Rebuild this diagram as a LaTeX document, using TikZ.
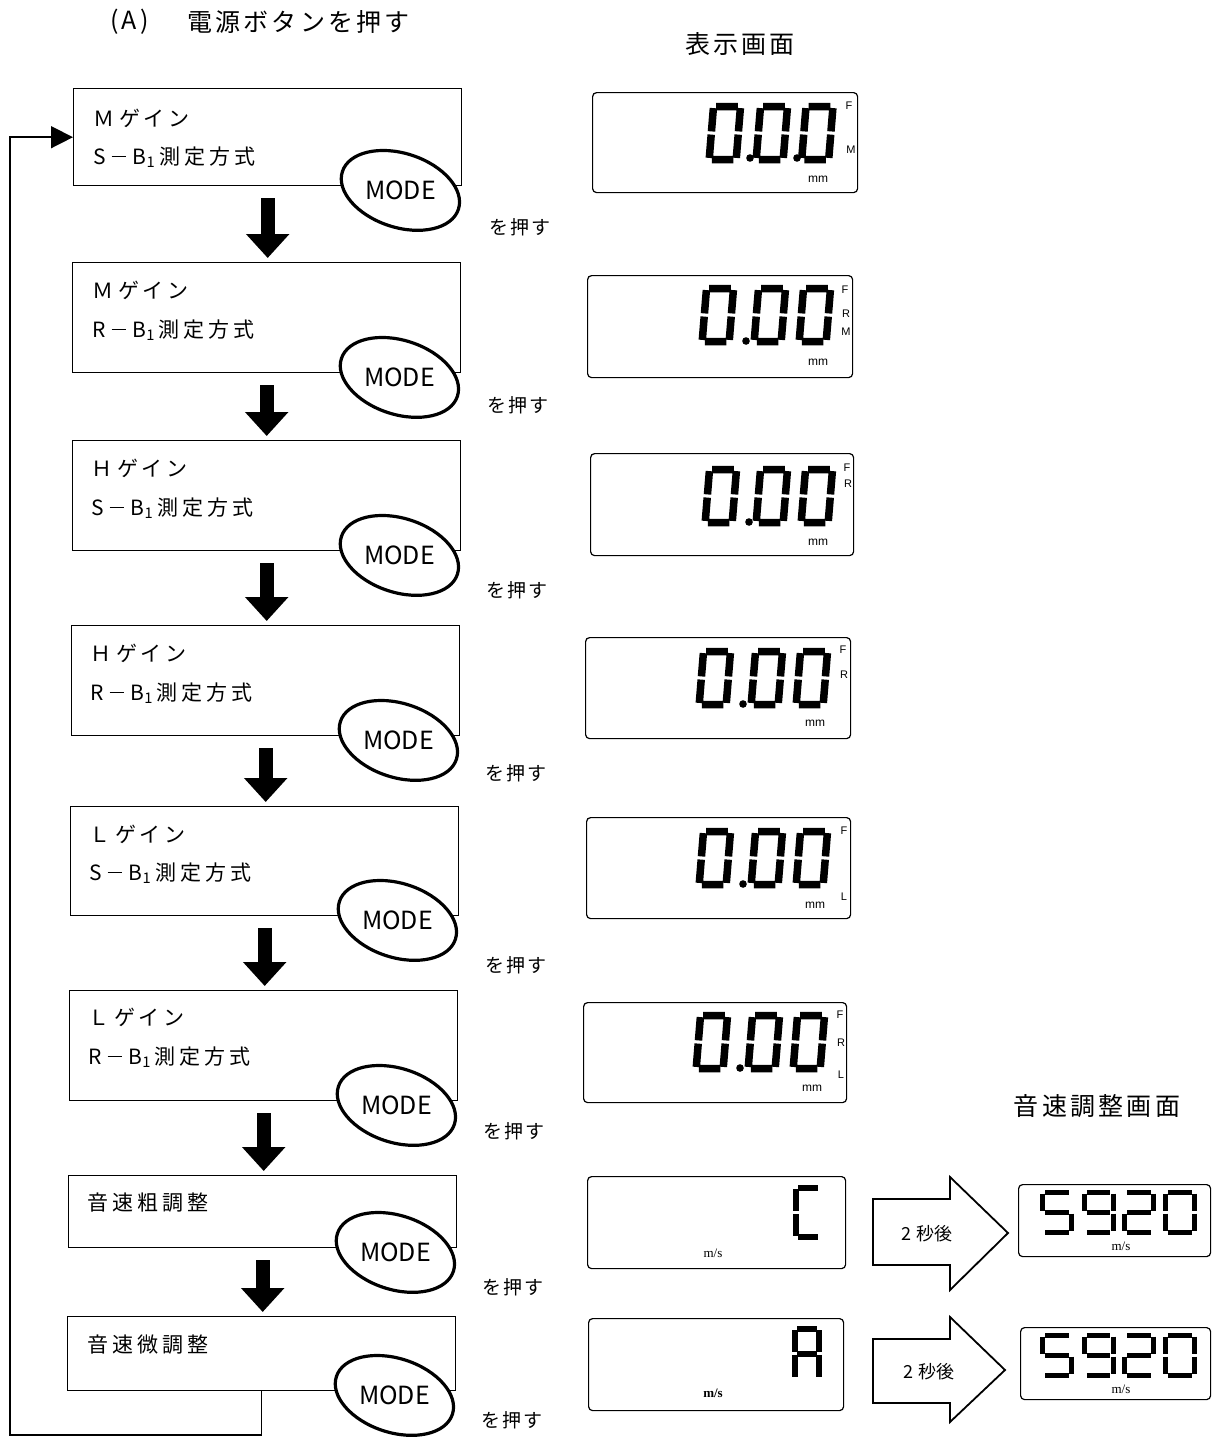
\documentclass[tikz,border=0pt]{standalone}
\usepackage{fontspec}
\setmainfont{Noto Sans CJK JP}
\newfontfamily\lcdfont{Liberation Sans}
\newfontfamily\msfont{Liberation Serif}
\usetikzlibrary{arrows.meta,shapes.geometric}
\def\segA{(0.1,0)--(0.9,0)}
\def\segB{(1,0.06)--(1,0.94)}
\def\segC{(1,1.06)--(1,1.94)}
\def\segD{(0.1,2)--(0.9,2)}
\def\segE{(0,1.06)--(0,1.94)}
\def\segF{(0,0.06)--(0,0.94)}
\def\segG{(0.1,1)--(0.9,1)}
\newcommand\sbdash{\hspace{6pt}\rule[0.33em]{14pt}{1.4pt}\hspace{7pt}}
\newcommand\bsub{B\textsubscript{1}\hspace{4pt}}
\tikzset{
  box/.style={draw, line width=1.4pt, minimum width=388pt, anchor=north west, inner sep=0pt},
  modeell/.style={draw, ellipse, fill=white, line width=3.2pt, minimum width=122pt, minimum height=74pt, inner sep=0pt, rotate=-18},
  modetxt/.style={font=\fontsize{25}{25}\selectfont, inner sep=0pt},
  btxt/.style={anchor=west, inner sep=0pt, font=\fontsize{21}{21}\selectfont\addfontfeature{LetterSpace=19}},
  push/.style={inner sep=0pt, font=\fontsize{19}{19}\selectfont\addfontfeature{LetterSpace=10}},
  ttl/.style={inner sep=0pt, font=\fontsize{25}{25}\selectfont\addfontfeature{LetterSpace=13}},
  bigarrow/.style={line width=14pt, -{Triangle[width=42pt,length=24pt]}, shorten <=12pt, shorten >=4pt},
  ret/.style={line width=1.5pt, -{Triangle[width=22pt,length=22pt]}},
  disp/.style={draw, line width=1.2pt, rounded corners=4pt, anchor=north west, inner sep=0pt},
  hollow/.style={draw, line width=1.8pt, fill=white, line join=miter},
  ind/.style={font=\lcdfont\fontsize{11}{11}\selectfont, inner sep=0pt},
  mmtxt/.style={font=\lcdfont\fontsize{12}{12}\selectfont, inner sep=0pt},
  mstxt/.style={font=\msfont\fontsize{13}{13}\selectfont, inner sep=0pt},
  sectxt/.style={font=\fontsize{18}{18}\selectfont, inner sep=0pt},
  big/.style={xscale=27, yscale=26.5, xslant=0.08, line width=7.5pt, line cap=butt},
  mid/.style={xscale=24, yscale=24.5, line width=6pt, line cap=butt},
  small/.style={xscale=29, yscale=20, line width=5pt, line cap=butt},
  pics/d0/.style={code={\draw \segA \segB \segC \segD \segE \segF;}},
  pics/d2/.style={code={\draw \segA \segB \segG \segE \segD;}},
  pics/d5/.style={code={\draw \segA \segF \segG \segC \segD;}},
  pics/d9/.style={code={\draw \segA \segB \segC \segD \segF \segG;}},
  pics/dC/.style={code={\draw \segA \segF \segE \segD;}},
  pics/dA/.style={code={\draw \segA \segB \segC \segE \segF \segG;}},
}
\begin{document}
\begin{tikzpicture}[x=1pt, y=-1pt]
\useasboundingbox[fill=white] (0,0) rectangle (1219,1441);

% titles
\node[ttl, anchor=west] (ta) at (110,22) {(A)};
\node[ttl, anchor=west] (tb) at (187,22) {電源ボタンを押す};
\node[ttl] (tc) at (740,44) {表示画面};
\node[ttl] (td) at (1097,1106) {音速調整画面};

% boxes
\node[box, minimum height=97pt] (b1) at (73,88) {};
\node[box, minimum height=110pt] (b2) at (72,262) {};
\node[box, minimum height=110pt] (b3) at (72,440) {};
\node[box, minimum height=110pt] (b4) at (71,625) {};
\node[box, minimum height=109pt] (b5) at (70,806) {};
\node[box, minimum height=110pt] (b6) at (69,990) {};
\node[box, minimum height=72pt] (b7) at (68,1175) {};
\node[box, minimum height=74pt] (b8) at (67,1316) {};

\node[btxt] (l1a) at (93,118) {Ｍ\hspace{5pt}ゲイン};
\node[btxt] (l1b) at (93,157) {S\sbdash\bsub 測定方式};
\node[btxt] (l2a) at (92,290) {Ｍ\hspace{5pt}ゲイン};
\node[btxt] (l2b) at (92,330) {R\sbdash\bsub 測定方式};
\node[btxt] (l3a) at (91,468) {Ｈ\hspace{5pt}ゲイン};
\node[btxt] (l3b) at (91,508) {S\sbdash\bsub 測定方式};
\node[btxt] (l4a) at (90,653) {Ｈ\hspace{5pt}ゲイン};
\node[btxt] (l4b) at (90,693) {R\sbdash\bsub 測定方式};
\node[btxt] (l5a) at (89,834) {Ｌ\hspace{5pt}ゲイン};
\node[btxt] (l5b) at (89,873) {S\sbdash\bsub 測定方式};
\node[btxt] (l6a) at (88,1017) {Ｌ\hspace{5pt}ゲイン};
\node[btxt] (l6b) at (88,1057) {R\sbdash\bsub 測定方式};
\node[btxt] (l7) at (87,1203) {音速粗調整};
\node[btxt] (l8) at (87,1345) {音速微調整};

% MODE ellipses
\foreach \i in {1,...,8}{
  \node[modeell] (e\i) at ([shift={(-62,4)}]b\i.south east) {};
  \node[modetxt] (m\i) at (e\i) {MODE};
}

% push labels
\node[push] (p1) at (520,227) {を押す};
\node[push] (p2) at (518,405) {を押す};
\node[push] (p3) at (517,590) {を押す};
\node[push] (p4) at (516,773) {を押す};
\node[push] (p5) at (516,965) {を押す};
\node[push] (p6) at (514,1131) {を押す};
\node[push] (p7) at (513,1287) {を押す};
\node[push] (p8) at (512,1420) {を押す};

% flow arrows
\foreach \i/\j in {1/2,2/3,3/4,4/5,5/6,6/7,7/8}{
  \draw[bigarrow] (b\i.south) -- (b\i.south |- b\j.north);
}
\coordinate (rl) at (10,1435);
\draw[ret] (b8.south) |- (rl) |- (b1.west);

% displays
\node[disp, minimum width=265pt, minimum height=100pt] (d1) at (592,92) {};
\node[disp, minimum width=265pt, minimum height=102pt] (d2) at (587,275) {};
\node[disp, minimum width=263pt, minimum height=102pt] (d3) at (590,453) {};
\node[disp, minimum width=265pt, minimum height=101pt] (d4) at (585,637) {};
\node[disp, minimum width=264pt, minimum height=101pt] (d5) at (586,817) {};
\node[disp, minimum width=263pt, minimum height=100pt] (d6) at (583,1002) {};
\node[disp, minimum width=258pt, minimum height=92pt] (d7) at (587,1176) {};
\node[disp, minimum width=255pt, minimum height=92pt] (d8) at (588,1318) {};
\node[disp, minimum width=192pt, minimum height=72pt] (s1) at (1018,1184) {};
\node[disp, minimum width=190pt, minimum height=72pt] (s2) at (1020,1327) {};

% D1: 0.0.0
\pic[big] at (713.5,106.5) {d0};
\pic[big] at (760.5,106.5) {d0};
\pic[big] at (806,106.5) {d0};
\fill (750,158) circle (3.8pt);
\fill (797,158) circle (3.8pt);
\node[ind] (f1) at (849,106) {F};
\node[ind] (f1m) at (851,150) {M};
\node[mmtxt] (mm1) at (818,179) {mm};

% D2
\pic[big] at (706.5,288.5) {d0};
\pic[big] at (758.5,288.5) {d0};
\pic[big] at (803.5,288.5) {d0};
\fill (746,341) circle (3.8pt);
\node[ind] (f2) at (845,290) {F};
\node[ind] (f2r) at (846,314) {R};
\node[ind] (f2m) at (846,332) {M};
\node[mmtxt] (mm2) at (818,362) {mm};

% D3
\pic[big] at (709.5,469.5) {d0};
\pic[big] at (760.5,469.5) {d0};
\pic[big] at (805.5,469.5) {d0};
\fill (749,522) circle (3.8pt);
\node[ind] (f3) at (847,468) {F};
\node[ind] (f3r) at (848,484) {R};
\node[mmtxt] (mm3) at (818,542) {mm};

% D4
\pic[big] at (703.5,651.5) {d0};
\pic[big] at (755.5,651.5) {d0};
\pic[big] at (800.5,651.5) {d0};
\fill (743,704) circle (3.8pt);
\node[ind] (f4) at (843,650) {F};
\node[ind] (f4r) at (844,675) {R};
\node[mmtxt] (mm4) at (815,723) {mm};

% D5
\pic[big] at (703.5,831.5) {d0};
\pic[big] at (755.5,831.5) {d0};
\pic[big] at (800.5,831.5) {d0};
\fill (743,884) circle (3.8pt);
\node[ind] (f5) at (844,831) {F};
\node[ind] (f5l) at (844,897) {L};
\node[mmtxt] (mm5) at (815,905) {mm};

% D6
\pic[big] at (700.5,1015.5) {d0};
\pic[big] at (752.5,1015.5) {d0};
\pic[big] at (797.5,1015.5) {d0};
\fill (740,1068) circle (3.8pt);
\node[ind] (f6) at (840,1015) {F};
\node[ind] (f6r) at (841,1043) {R};
\node[ind] (f6l) at (841,1075) {L};
\node[mmtxt] (mm6) at (812,1088) {mm};

% D7 / D8
\pic[mid] at (796,1188) {dC};
\node[mstxt] (ms7) at (713,1253) {m/s};
\pic[mid] at (795,1329) {dA};
\node[mstxt, font=\msfont\bfseries\fontsize{13}{13}\selectfont] (ms8) at (713,1393) {m/s};

% hollow arrows
\draw[hollow] (873,1199) -- (950,1199) -- (950,1177) -- (1008,1233) -- (950,1290) -- (950,1265) -- (873,1265) -- cycle;
\node[sectxt] (t1) at (927,1234) {2 秒後};
\draw[hollow] (873,1339) -- (950,1339) -- (950,1317) -- (1005,1370) -- (950,1422) -- (950,1403) -- (873,1403) -- cycle;
\node[sectxt] (t2) at (929,1372) {2 秒後};

% S1 / S2: 5920
\foreach \yy in {1192.5, 1335.5}{
  \pic[small] at (1042.5,\yy) {d5};
  \pic[small] at (1084,\yy) {d9};
  \pic[small] at (1124.5,\yy) {d2};
  \pic[small] at (1165.5,\yy) {d0};
}
\node[mstxt] (ms9) at (1121,1246) {m/s};
\node[mstxt] (ms10) at (1121,1389) {m/s};
\end{tikzpicture}
\end{document}
